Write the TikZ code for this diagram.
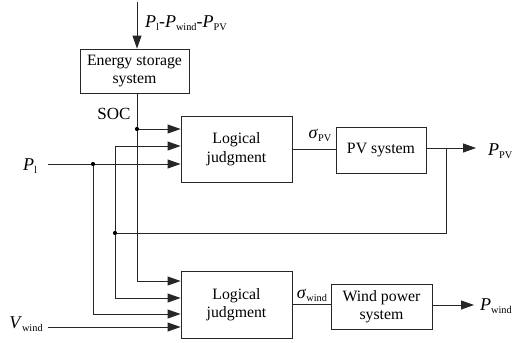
\documentclass[tikz,border=0pt]{standalone}
\usepackage{fontspec}
\setmainfont{Liberation Serif}
\usetikzlibrary{arrows.meta}
\newcommand{\Sb}[1]{\raisebox{-3.5pt}{\fontsize{10.3}{11}\selectfont #1}}
\newcommand{\Pq}[1]{\textit{P}\Sb{#1}}
\begin{document}
\begin{tikzpicture}[x=1pt,y=-1pt,
  font=\fontsize{15.8}{18.5}\selectfont,
  ln/.style={line width=0.9pt,draw=black!85},
  arr/.style={ln,-{Triangle[length=13pt,width=9pt]}},
  blk/.style={ln,draw,inner sep=0pt,align=center},
  lbl/.style={inner sep=0pt,font=\fontsize{18}{20}\selectfont},
  dotc/.style={fill=black,radius=2.1pt}]
\useasboundingbox (0,0) rectangle (512,343);
% blocks
\node[blk,minimum width=109pt,minimum height=44pt] (ess) at (134.5,71) {Energy storage\\system};
\node[blk,minimum width=111pt,minimum height=66pt] (lj1) at (236.5,149) {Logical\\judgment};
\node[blk,minimum width=90pt,minimum height=46pt] (pv) at (381,150) {PV system};
\node[blk,minimum width=101pt,minimum height=45pt] (wind) at (381.5,306.5) {Wind power\\system};
\node[blk,minimum width=111pt,minimum height=67pt] (lj2) at (236.5,304.5) {Logical\\judgment};
% labels
\node[lbl,anchor=base west] (ltop) at (145,27) {\Pq{l}-\Pq{wind}-\Pq{PV}};
\node[lbl,anchor=base,font=\fontsize{17}{20}\selectfont] (lsoc) at (114,119) {SOC};
\node[lbl,anchor=base] (lpl) at (30,170) {\Pq{l}};
\node[lbl,anchor=base] (lvw) at (26,328) {\textit{V}\Sb{wind}};
\node[lbl,anchor=base] (lspv) at (320,138) {\textit{σ}\Sb{PV}};
\node[lbl,anchor=base] (lsw) at (312,298) {\textit{σ}\Sb{wind}};
\node[lbl,anchor=base west] (lppv) at (488,155) {\Pq{PV}};
\node[lbl,anchor=base west] (lpw) at (480,310) {\Pq{wind}};
% coordinates
\coordinate (top) at (137,2);
\coordinate (socDot) at (137,129);
\coordinate (socBot) at (137,281);
\coordinate (fbTop) at (115,146);
\coordinate (fbDot) at (115,233);
\coordinate (fbBot) at (115,298);
\coordinate (fbA) at (446,148);
\coordinate (fbB) at (446,233);
\coordinate (plStart) at (48,164);
\coordinate (plDot) at (93,164);
\coordinate (plBot) at (93,314);
\coordinate (vStart) at (48,327);
\coordinate (pvOut) at (476,148);
\coordinate (wOut) at (474,305);
% connectors
\draw[arr] (top) -- (top |- ess.north);
\draw[arr] (top |- ess.south) -- (socBot) -- (socBot -| lj2.west);
\draw[arr] (socDot) -- (socDot -| lj1.west);
\draw[arr] (fbTop) -- (fbTop -| lj1.west);
\draw[arr] (fbTop) -- (fbBot) -- (fbBot -| lj2.west);
\draw[arr] (plStart) -- (plStart -| lj1.west);
\draw[arr] (plDot) -- (plBot) -- (plBot -| lj2.west);
\draw[arr] (vStart) -- (vStart -| lj2.west);
\draw[ln] (fbA) -- (fbB) -- (fbDot);
\draw[ln] (lj1.east) -- (lj1.east -| pv.west);
\draw[ln] (lj2.east) -- (lj2.east -| wind.west);
\draw[arr] (pvOut -| pv.east) -- (pvOut);
\draw[arr] (wOut -| wind.east) -- (wOut);
\fill[dotc] (socDot) circle;
\fill[dotc] (fbDot) circle;
\fill[dotc] (plDot) circle;
\end{tikzpicture}
\end{document}
